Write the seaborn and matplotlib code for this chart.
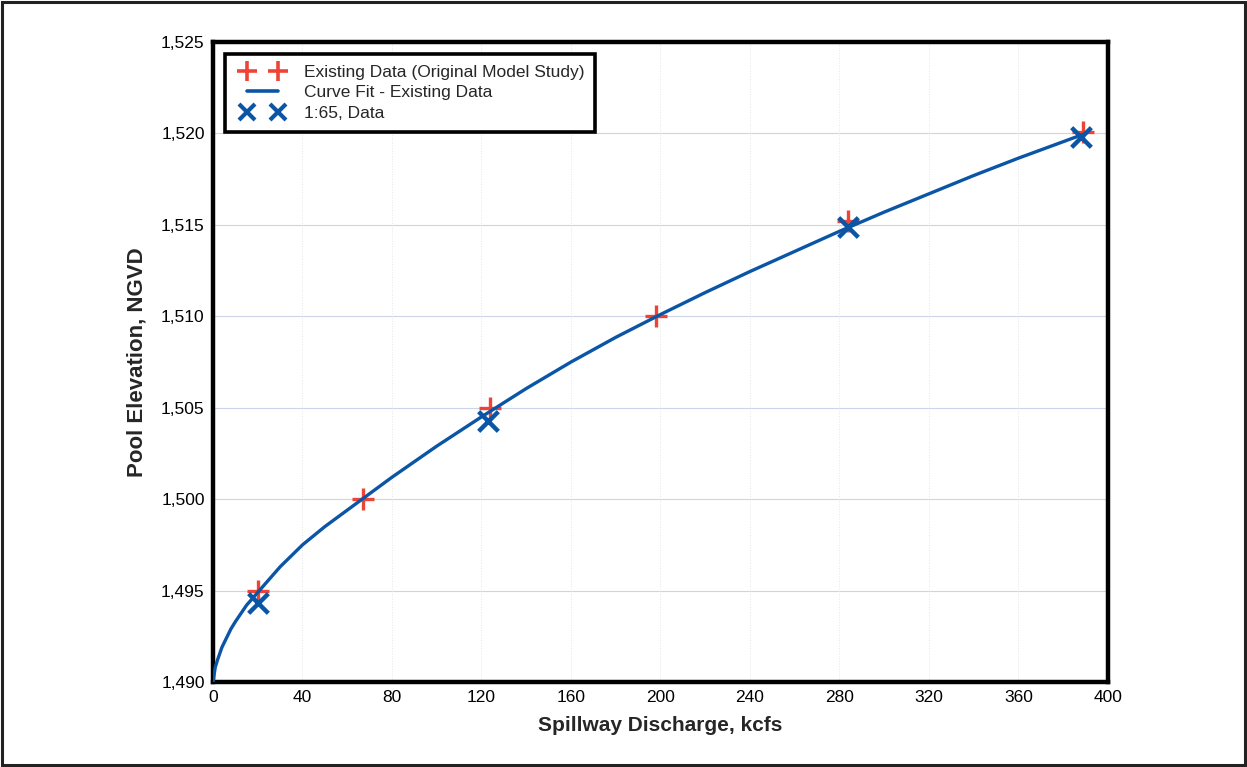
import matplotlib
matplotlib.use("Agg")
import matplotlib.pyplot as plt
from matplotlib.lines import Line2D
from matplotlib.legend_handler import HandlerLine2D
from matplotlib.patches import Rectangle
import seaborn as sns
import pandas as pd

# data
existing_q = [20, 67, 124, 198, 284, 389]
existing_elev = [1495.0, 1500.0, 1505.0, 1510.0, 1515.2, 1520.1]

model_q = [20, 123, 284, 388]
model_elev = [1494.3, 1504.3, 1514.9, 1519.8]

curve_q = [0, 1, 2, 4, 6, 8, 10, 15, 20, 25, 30, 40, 50, 60, 70, 80, 90, 100, 120, 140,
           160, 180, 200, 220, 240, 260, 280, 300, 320, 340, 360, 390]
curve_elev = [1490.0, 1490.8, 1491.2, 1491.9, 1492.4, 1492.9, 1493.3, 1494.2, 1494.9, 1495.6,
              1496.3, 1497.5, 1498.5, 1499.4, 1500.3, 1501.2, 1502.05, 1502.9, 1504.5, 1506.05,
              1507.5, 1508.85, 1510.1, 1511.3, 1512.45, 1513.55, 1514.65, 1515.7, 1516.7, 1517.7,
              1518.65, 1520.0]

x_ticks = [0, 40, 80, 120, 160, 200, 240, 280, 320, 360, 400]
y_ticks = [1490, 1495, 1500, 1505, 1510, 1515, 1520, 1525]

red = "#ee4436"
blue = "#0b55a6"

sns.set_theme(style="white")
plt.rcParams["font.family"] = ["Liberation Sans", "DejaVu Sans"]

fig = plt.figure(figsize=(12.47, 7.67), dpi=100)
ax = fig.add_axes([0.1708, 0.1108, 0.7177, 0.8344])

# faint grid
for yv in y_ticks[1:-1]:
    ax.axhline(yv, color="#ccd4ea", lw=0.8, zorder=0)
for xv in x_ticks[1:-1]:
    ax.axvline(xv, color="#e6e6e6", lw=0.7, ls=":", zorder=0)

ex = pd.DataFrame({"q": existing_q, "elev": existing_elev})
cv = pd.DataFrame({"q": curve_q, "elev": curve_elev})
md = pd.DataFrame({"q": model_q, "elev": model_elev})

sns.scatterplot(data=ex, x="q", y="elev", marker="+", s=260, color=red,
                linewidth=2.4, ax=ax, zorder=2)
sns.lineplot(data=cv, x="q", y="elev", color=blue, lw=2.4, ax=ax, zorder=3)
sns.scatterplot(data=md, x="q", y="elev", marker="x", s=200, color=blue,
                linewidth=3.2, ax=ax, zorder=4)

ax.set_xlim(0, 400)
ax.set_ylim(1490, 1525)
ax.set_xticks(x_ticks)
ax.set_yticks(y_ticks)
ax.set_yticklabels([f"{v:,}" for v in y_ticks])
ax.tick_params(length=0, labelsize=12.5, pad=6, colors="black")

for sp in ax.spines.values():
    sp.set_linewidth(3.2)
    sp.set_color("black")

ax.set_xlabel("Spillway Discharge, kcfs", fontsize=15, fontweight="bold", labelpad=8)
ax.set_ylabel("Pool Elevation, NGVD", fontsize=16, fontweight="bold", labelpad=10)

handles = [
    Line2D([], [], color=red, marker="+", ls="", markersize=15, mew=2.6),
    Line2D([], [], color=blue, lw=2.6),
    Line2D([], [], color=blue, marker="x", ls="", markersize=12, mew=3.0),
]
labels = ["Existing Data (Original Model Study)", "Curve Fit - Existing Data", "1:65, Data"]
hmap = {h: HandlerLine2D(marker_pad=0.65, numpoints=2) for h in handles}
leg = ax.legend(handles, labels, loc="upper left", handler_map=hmap, fontsize=12.5,
                frameon=True, fancybox=False, edgecolor="black", framealpha=1,
                labelspacing=0.32, handlelength=3.1, handletextpad=0.85,
                borderpad=0.6, borderaxespad=0.7)
leg.get_frame().set_linewidth(2.6)

# outer border around the whole image
fig.patches.append(Rectangle((0.002, 0.002), 0.996, 0.996, transform=fig.transFigure,
                             fill=False, edgecolor="#222222", lw=2.2))

fig.savefig("out.png", dpi=100)
